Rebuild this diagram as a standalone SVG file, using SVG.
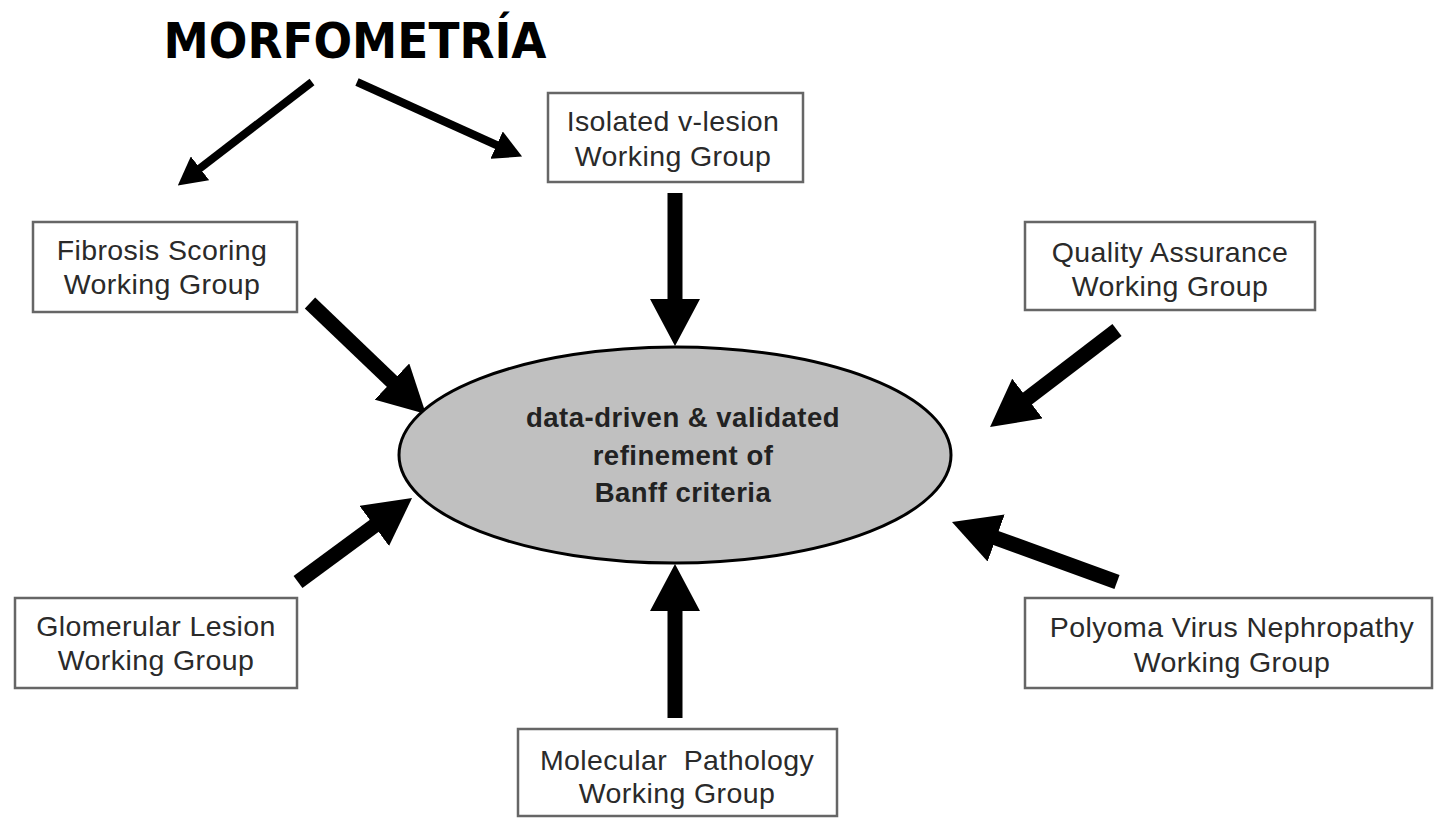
<svg xmlns="http://www.w3.org/2000/svg" width="1436" height="818" viewBox="0 0 1436 818">
<style>
.box{fill:#fff;stroke:#666;stroke-width:2.5}
.bt{font-family:"Liberation Sans",Arial,sans-serif;font-size:28.5px;letter-spacing:0.4px;fill:#2a2a2a;text-anchor:middle}
.et{font-family:"Liberation Sans",Arial,sans-serif;font-size:27.5px;letter-spacing:0.5px;font-weight:bold;fill:#222;text-anchor:middle}
.big{stroke:#000;stroke-width:15;fill:none;marker-end:url(#bh)}
.small{stroke:#000;stroke-width:8;fill:none;marker-end:url(#sh)}
</style>
<defs>
<marker id="bh" markerUnits="userSpaceOnUse" viewBox="0 0 47 50" markerWidth="47" markerHeight="50" refX="1" refY="25" orient="auto"><path d="M0,0 L47,25 L0,50 z" fill="#000"/></marker>
<marker id="sh" markerUnits="userSpaceOnUse" viewBox="0 0 28 30" markerWidth="28" markerHeight="30" refX="1" refY="15" orient="auto"><path d="M0,0 L28,15 L0,30 z" fill="#000"/></marker>
</defs>
<rect width="1436" height="818" fill="#fff"/>
<text x="355" y="58" font-family="'DejaVu Sans',sans-serif" font-weight="bold" font-size="50" fill="#000" textLength="383" lengthAdjust="spacingAndGlyphs" text-anchor="middle">MORFOMETRÍA</text>
<g id="connectors">
<line class="small" x1="312" y1="82" x2="199.2" y2="168.9"/>
<line class="small" x1="357" y1="82" x2="497.5" y2="145.5"/>
<line class="big" x1="675" y1="193" x2="675" y2="300"/>
<line class="big" x1="310" y1="303" x2="392.7" y2="382.2"/>
<line class="big" x1="1117" y1="330" x2="1026.6" y2="399.1"/>
<line class="big" x1="298" y1="582" x2="375" y2="525.3"/>
<line class="big" x1="1117" y1="582" x2="995.2" y2="537.7"/>
<line class="big" x1="675" y1="718" x2="675" y2="610"/>
</g>
<g id="center">
<ellipse cx="675" cy="455" rx="276" ry="108" fill="#c0c0c0" stroke="#000" stroke-width="3"/>
<text class="et" x="683" y="427">data-driven &amp; validated</text>
<text class="et" x="683" y="465">refinement of</text>
<text class="et" x="683" y="502">Banff criteria</text>
</g>
<g id="isolated">
<rect class="box" x="548" y="93" width="255" height="89"/>
<text class="bt" x="673" y="131">Isolated v-lesion</text>
<text class="bt" x="673" y="166">Working Group</text>
</g>
<g id="fibrosis">
<rect class="box" x="33" y="222" width="264" height="90"/>
<text class="bt" x="162" y="260">Fibrosis Scoring</text>
<text class="bt" x="162" y="294">Working Group</text>
</g>
<g id="quality">
<rect class="box" x="1025" y="222" width="290" height="88"/>
<text class="bt" x="1170" y="262">Quality Assurance</text>
<text class="bt" x="1170" y="296">Working Group</text>
</g>
<g id="glomerular">
<rect class="box" x="15" y="598" width="282" height="90"/>
<text class="bt" x="156" y="636">Glomerular Lesion</text>
<text class="bt" x="156" y="670">Working Group</text>
</g>
<g id="polyoma">
<rect class="box" x="1025" y="598" width="407" height="90"/>
<text class="bt" x="1232" y="637">Polyoma Virus Nephropathy</text>
<text class="bt" x="1232" y="672">Working Group</text>
</g>
<g id="molecular">
<rect class="box" x="518" y="729" width="319" height="87"/>
<text class="bt" x="677" y="770" xml:space="preserve">Molecular  Pathology</text>
<text class="bt" x="677" y="803">Working Group</text>
</g>
</svg>
